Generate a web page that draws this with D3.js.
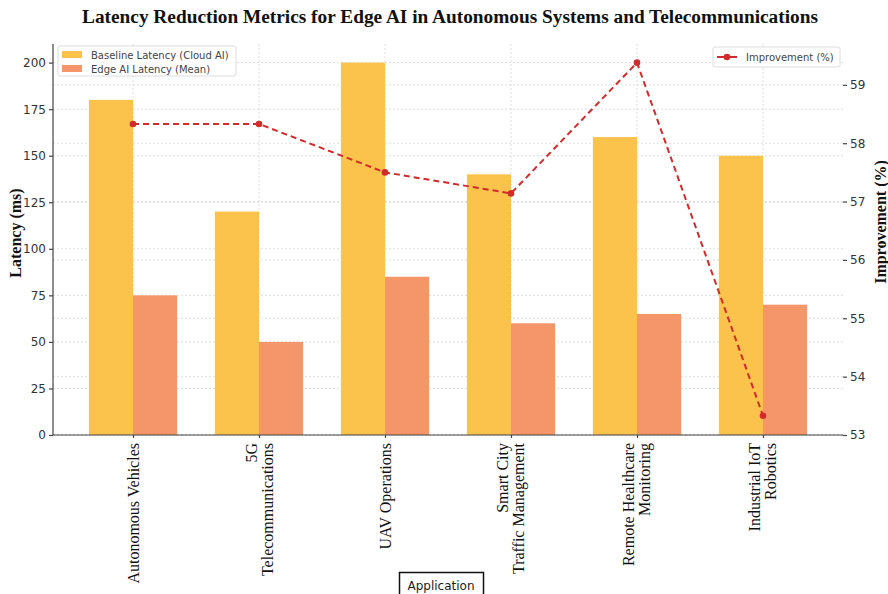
<!DOCTYPE html>
<html><head><meta charset="utf-8">
<script src="https://cdn.jsdelivr.net/npm/d3@7"></script>
<style>body{margin:0;background:#fff}svg{display:block}</style>
</head><body>
<script>
const categories = ["Autonomous Vehicles","5G\nTelecommunications","UAV Operations","Smart City\nTraffic Management","Remote Healthcare\nMonitoring","Industrial IoT\nRobotics"];
const baselineLatency = [180,120,200,140,160,150];
const edgeLatency = [75,50,85,60,65,70];
const improvement = [58.33,58.33,57.5,57.14,59.38,53.33];
const leftTicks = [0,25,50,75,100,125,150,175,200];
const rightTicks = [53,54,55,56,57,58,59];

const W=888,H=594;
const svg=d3.select("body").append("svg").attr("width",W).attr("height",H);
const L=53,R=843,T=44,B=435;
const x=d3.scaleLinear().domain([-0.635,5.635]).range([L,R]);
const yL=d3.scaleLinear().domain([0,210]).range([B,T]);
const yR=d3.scaleLinear().domain([53,59.7]).range([B,T]);
const bw=0.35;
const cBase="#FBC24C", cEdge="#F4956A", cLine="#D22B2B";
const grid="#d6d6d6";

// gridlines
const g=svg.append("g");
g.selectAll(".gv").data(categories).join("line").attr("x1",(d,i)=>x(i)).attr("x2",(d,i)=>x(i)).attr("y1",T).attr("y2",B)
 .attr("stroke",grid).attr("stroke-dasharray","2,2").attr("stroke-width",0.8);
g.selectAll(".gl").data(leftTicks).join("line").attr("x1",L).attr("x2",R).attr("y1",d=>yL(d)).attr("y2",d=>yL(d))
 .attr("stroke",grid).attr("stroke-dasharray","2,2").attr("stroke-width",0.8);
g.selectAll(".gr").data(rightTicks).join("line").attr("x1",L).attr("x2",R).attr("y1",d=>yR(d)).attr("y2",d=>yR(d))
 .attr("stroke",grid).attr("stroke-dasharray","2,2").attr("stroke-width",0.8);

// bars
svg.append("g").selectAll("rect").data(baselineLatency).join("rect")
 .attr("x",(d,i)=>x(i-bw)).attr("width",(d,i)=>x(i)-x(i-bw)).attr("y",d=>yL(d)).attr("height",d=>yL(0)-yL(d)).attr("fill",cBase);
svg.append("g").selectAll("rect").data(edgeLatency).join("rect")
 .attr("x",(d,i)=>x(i)).attr("width",(d,i)=>x(i+bw)-x(i)).attr("y",d=>yL(d)).attr("height",d=>yL(0)-yL(d)).attr("fill",cEdge);

// axes
const axL=svg.append("g").attr("transform",`translate(${L},0)`).call(d3.axisLeft(yL).tickValues(leftTicks).tickSize(4).tickPadding(3));
const axR=svg.append("g").attr("transform",`translate(${R},0)`).call(d3.axisRight(yR).tickValues(rightTicks).tickFormat(d3.format("d")).tickSize(4).tickPadding(3));
const axB=svg.append("g").attr("transform",`translate(0,${B})`).call(d3.axisBottom(x).tickValues(d3.range(categories.length)).tickSize(3).tickFormat(""));
axR.select(".domain").remove();
axL.select(".domain").attr("d",`M0,${T}V${B}`);
axB.select(".domain").attr("d",`M${L},0H${R}`);
[axL,axR,axB].forEach(a=>{a.selectAll("path,line").attr("stroke","#444").attr("stroke-width",1.2);
 a.selectAll("text").attr("font-family","DejaVu Sans").attr("font-size",12).attr("fill","#333");});

// x labels
categories.forEach((c,i)=>{
 const lines=c.split("\n"); const n=lines.length; const lh=16;
 lines.forEach((ln,j)=>{
  const off=(j-(n-1)/2)*lh;
  svg.append("text").attr("transform",`translate(${x(i)+off},443) rotate(-90)`)
   .attr("text-anchor","end").attr("dominant-baseline","central")
   .attr("font-family","Liberation Serif").attr("font-size",16).attr("fill","#111").text(ln);
 });
});

// line
const line=d3.line().x((d,i)=>x(i)).y(d=>yR(d));
svg.append("path").datum(improvement).attr("d",line).attr("fill","none").attr("stroke",cLine).attr("stroke-width",2).attr("stroke-dasharray","6,4");
svg.append("g").selectAll("circle").data(improvement).join("circle").attr("cx",(d,i)=>x(i)).attr("cy",d=>yR(d)).attr("r",3.3).attr("fill",cLine);

// legends
const lg1=svg.append("g");
lg1.append("rect").attr("x",58).attr("y",46).attr("width",178).attr("height",30).attr("rx",2).attr("fill","#fff").attr("fill-opacity",0.85).attr("stroke","#ddd");
[["Baseline Latency (Cloud AI)",cBase],["Edge AI Latency (Mean)",cEdge]].forEach((d,i)=>{
 lg1.append("rect").attr("x",62).attr("y",51+i*14).attr("width",20).attr("height",7).attr("fill",d[1]);
 lg1.append("text").attr("x",91).attr("y",55+i*14).attr("dominant-baseline","central").attr("font-family","DejaVu Sans").attr("font-size",10).attr("fill","#444").text(d[0]);
});
const lg2=svg.append("g");
lg2.append("rect").attr("x",713).attr("y",47).attr("width",127).attr("height",20).attr("rx",2).attr("fill","#fff").attr("fill-opacity",0.85).attr("stroke","#ddd");
lg2.append("line").attr("x1",717).attr("x2",737).attr("y1",57).attr("y2",57).attr("stroke",cLine).attr("stroke-width",2);
lg2.append("circle").attr("cx",727).attr("cy",57).attr("r",3.3).attr("fill",cLine);
lg2.append("text").attr("x",746).attr("y",57).attr("dominant-baseline","central").attr("font-family","DejaVu Sans").attr("font-size",10).attr("fill","#444").text("Improvement (%)");

// titles
svg.append("text").attr("x",450).attr("y",17).attr("text-anchor","middle").attr("dominant-baseline","central")
 .attr("font-family","Liberation Serif").attr("font-weight","bold").attr("font-size",18.5).attr("fill","#111")
 .attr("textLength",736).attr("lengthAdjust","spacingAndGlyphs")
 .text("Latency Reduction Metrics for Edge AI in Autonomous Systems and Telecommunications");
svg.append("text").attr("transform","translate(15,233) rotate(-90)").attr("text-anchor","middle").attr("dominant-baseline","central")
 .attr("font-family","Liberation Serif").attr("font-weight","bold").attr("font-size",16).attr("fill","#111").text("Latency (ms)");
svg.append("text").attr("transform","translate(880,222) rotate(-90)").attr("text-anchor","middle").attr("dominant-baseline","central")
 .attr("font-family","Liberation Serif").attr("font-weight","bold").attr("font-size",16).attr("fill","#111").text("Improvement (%)");

// Application box
svg.append("rect").attr("x",399.5).attr("y",572.5).attr("width",84).attr("height",30).attr("fill","#fff").attr("stroke","#111").attr("stroke-width",1.5);
svg.append("text").attr("x",441).attr("y",586).attr("text-anchor","middle").attr("dominant-baseline","central")
 .attr("font-family","DejaVu Sans").attr("font-size",12).attr("fill","#222").text("Application");
</script>
</body></html>
